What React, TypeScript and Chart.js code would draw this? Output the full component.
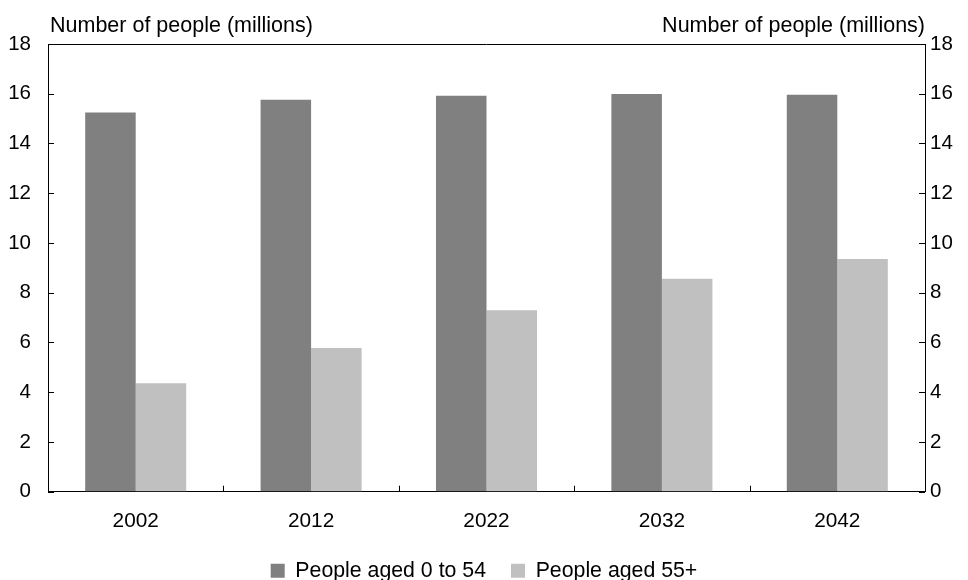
import { useEffect, useRef } from "react";
import { Chart, registerables } from "chart.js";
import type { Plugin } from "chart.js";

Chart.register(...registerables);

const years = ["2002", "2012", "2022", "2032", "2042"];
const aged0to54 = [15.25, 15.76, 15.92, 15.99, 15.96];
const aged55plus = [4.36, 5.78, 7.3, 8.56, 9.36];
const seriesLabels = ["People aged 0 to 54", "People aged 55+"];
const axisTitle = "Number of people (millions)";
const yMin = 0;
const yMax = 18;
const yStep = 2;

const FONT = "'Liberation Sans', Arial, sans-serif";

// top frame line, inward tick marks and the two axis titles
const framePlugin: Plugin<"bar"> = {
  id: "frame",
  afterDraw(chart) {
    const { ctx, chartArea, scales } = chart;
    const { left, right, top, bottom } = chartArea;
    ctx.save();
    ctx.strokeStyle = "#000";
    ctx.lineWidth = 1;
    ctx.beginPath();
    ctx.moveTo(left, Math.round(top) + 0.5);
    ctx.lineTo(right, Math.round(top) + 0.5);
    const y = scales.y;
    y.ticks.forEach((t) => {
      const py = Math.round(y.getPixelForValue(t.value)) + 0.5;
      ctx.moveTo(left, py);
      ctx.lineTo(left + 6, py);
      ctx.moveTo(right - 6, py);
      ctx.lineTo(right, py);
    });
    const x = scales.x;
    for (let i = 1; i < years.length; i++) {
      const px = Math.round((x.getPixelForValue(i - 1) + x.getPixelForValue(i)) / 2) + 0.5;
      ctx.moveTo(px, bottom);
      ctx.lineTo(px, bottom - 6);
    }
    ctx.stroke();

    ctx.fillStyle = "#000";
    ctx.font = `21.5px ${FONT}`;
    ctx.textBaseline = "alphabetic";
    ctx.textAlign = "left";
    ctx.fillText(axisTitle, left + 2, 32);
    ctx.textAlign = "right";
    ctx.fillText(axisTitle, right, 32);
    ctx.restore();
  },
};

export default function App() {
  const chartRef = useRef<HTMLCanvasElement>(null);

  useEffect(() => {
    const chart = new Chart(chartRef.current!, {
      type: "bar",
      data: {
        labels: years,
        datasets: [
          {
            label: seriesLabels[0],
            data: aged0to54,
            backgroundColor: "#808080",
            borderWidth: 0,
          },
          {
            label: seriesLabels[1],
            data: aged55plus,
            backgroundColor: "#c0c0c0",
            borderWidth: 0,
          },
        ],
      },
      options: {
        responsive: false,
        animation: false,
        layout: { padding: { top: 44, left: 0, right: 0, bottom: -11.5 } },
        datasets: {
          bar: { categoryPercentage: 0.576, barPercentage: 1 },
        },
        plugins: {
          tooltip: { enabled: false },
          legend: {
            position: "bottom",
            labels: {
              boxWidth: 14,
              boxHeight: 14,
              padding: 25,
              color: "#000",
              font: { family: FONT, size: 21.3 },
            },
          },
        },
        scales: {
          x: {
            grid: { drawOnChartArea: false, drawTicks: false },
            border: { display: true, color: "#000", width: 1 },
            ticks: { color: "#000", padding: 17, font: { family: FONT, size: 20.8 } },
            afterFit: (scale) => {
              scale.height = 43.5;
            },
          },
          y: {
            position: "left",
            min: yMin,
            max: yMax,
            grid: { drawOnChartArea: false, drawTicks: false },
            border: { display: true, color: "#000", width: 1 },
            ticks: { stepSize: yStep, color: "#000", padding: 17, font: { family: FONT, size: 20.5 } },
            afterFit: (scale) => {
              scale.width = 48;
            },
          },
          y2: {
            position: "right",
            min: yMin,
            max: yMax,
            grid: { drawOnChartArea: false, drawTicks: false },
            border: { display: true, color: "#000", width: 1 },
            ticks: { stepSize: yStep, color: "#000", padding: 5, font: { family: FONT, size: 20.5 } },
            afterFit: (scale) => {
              scale.width = 43;
            },
          },
        },
      },
      plugins: [framePlugin],
    });

    return () => chart.destroy();
  }, []);

  return (
    <div style={{ position: "fixed", left: 0, top: 0, width: 968, height: 580, background: "#fff" }}>
      <canvas ref={chartRef} width={968} height={580} style={{ display: "block" }}></canvas>
    </div>
  );
}
